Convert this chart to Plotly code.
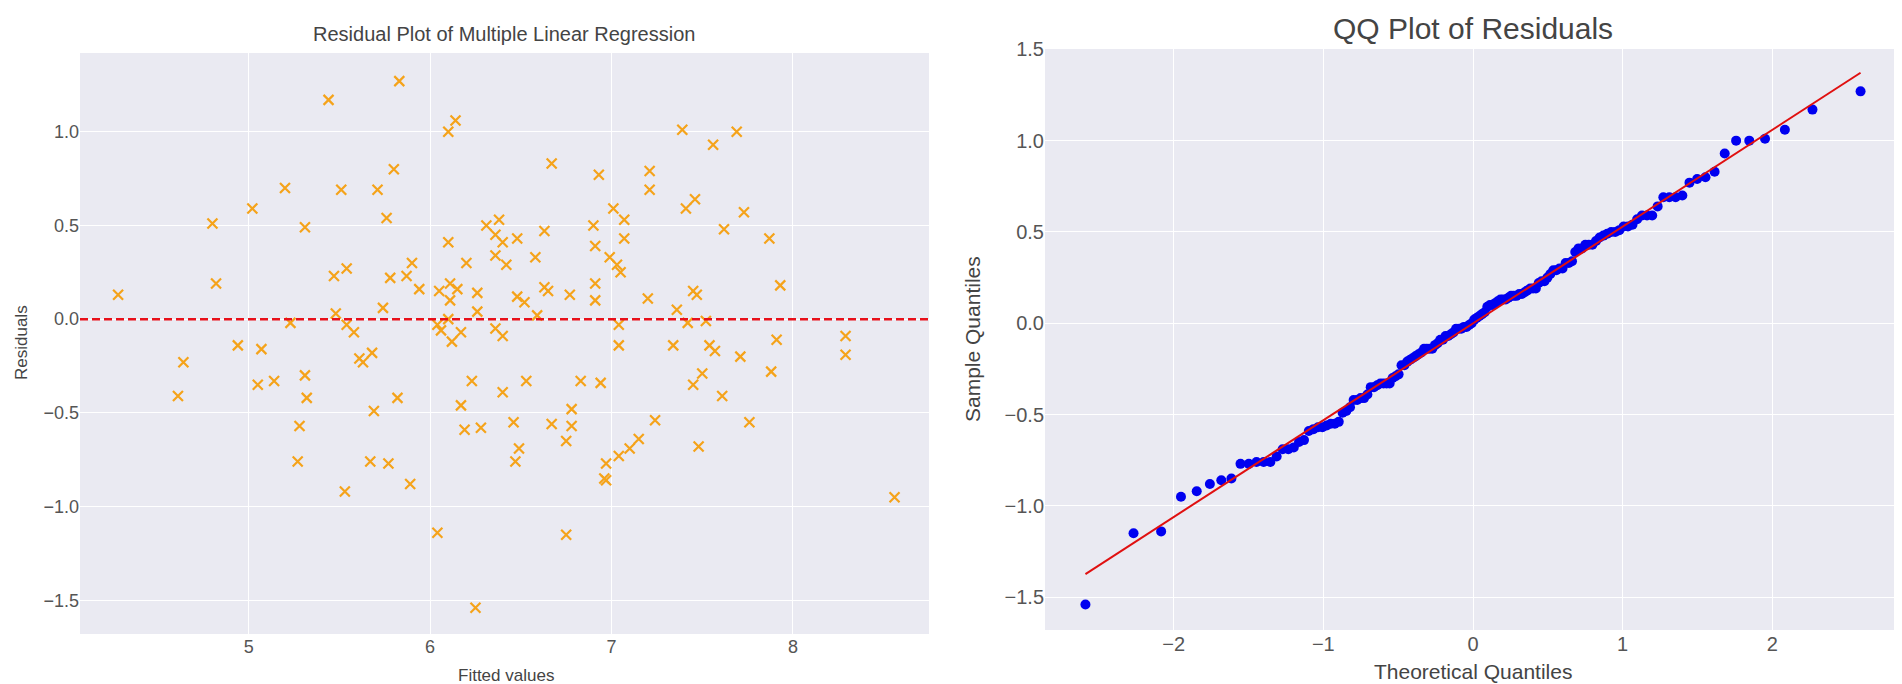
import numpy as np
import plotly.graph_objects as go
from statistics import NormalDist

# values (fitted value, residual)
fitted = [
    4.28, 4.61, 4.64, 4.80, 4.82, 4.94, 5.02, 5.05, 5.07, 5.14,
    5.20, 5.23, 5.27, 5.28, 5.31, 5.31, 5.32, 5.44, 5.47, 5.48,
    5.51, 5.53, 5.54, 5.54, 5.58, 5.61, 5.63, 5.68, 5.69, 5.67,
    5.71, 5.74, 5.76, 5.77, 5.78, 5.80, 5.82, 5.83, 5.87, 5.89,
    5.90, 5.94, 6.04, 6.04, 6.05, 6.06, 6.10, 6.10, 6.10, 6.11,
    6.11, 6.12, 6.14, 6.15, 6.17, 6.17, 6.19, 6.20, 6.23, 6.25,
    6.26, 6.26, 6.28, 6.31, 6.36, 6.36, 6.36, 6.38, 6.40, 6.40,
    6.40, 6.42, 6.46, 6.47, 6.48, 6.48, 6.49, 6.52, 6.53, 6.58,
    6.59, 6.63, 6.63, 6.65, 6.67, 6.67, 6.75, 6.75, 6.77, 6.78,
    6.78, 6.83, 6.90, 6.91, 6.91, 6.91, 6.93, 6.94, 6.96, 6.97,
    6.97, 6.99, 7.01, 7.03, 7.04, 7.04, 7.04, 7.05, 7.07, 7.07,
    7.10, 7.15, 7.20, 7.21, 7.21, 7.24, 7.34, 7.36, 7.39, 7.41,
    7.42, 7.45, 7.45, 7.46, 7.47, 7.48, 7.50, 7.52, 7.54, 7.56,
    7.57, 7.61, 7.62, 7.69, 7.71, 7.73, 7.76, 7.87, 7.88, 7.91,
    7.93, 8.29, 8.29, 8.56,
]
residuals = [
    0.13, -0.41, -0.23, 0.51, 0.19, -0.14, 0.59, -0.35, -0.16, -0.33,
    0.70, -0.02, -0.76, -0.57, 0.49, -0.30, -0.42, 1.17, 0.23, 0.03,
    0.69, -0.92, 0.27, -0.03, -0.07, -0.21, -0.23, -0.18, -0.49, -0.76,
    0.69, 0.06, 0.54, -0.77, 0.22, 0.80, -0.42, 1.27, 0.23, -0.88,
    0.30, 0.16, -0.03, -1.14, 0.15, -0.06, 1.00, 0.41, 0.00, 0.19,
    0.10, -0.12, 1.06, 0.16, -0.07, -0.46, -0.59, 0.30, -0.33, -1.54,
    0.14, 0.04, -0.58, 0.50, 0.45, 0.34, -0.05, 0.53, 0.41, -0.09,
    -0.39, 0.29, -0.55, -0.76, 0.43, 0.12, -0.69, 0.09, -0.33, 0.33,
    0.02, 0.47, 0.17, 0.15, 0.83, -0.56, -0.65, -1.15, 0.13, -0.48,
    -0.57, -0.33, 0.50, 0.39, 0.19, 0.10, 0.77, -0.34, -0.85, -0.86,
    -0.77, 0.33, 0.59, 0.29, -0.03, -0.14, -0.73, 0.25, 0.53, 0.43,
    -0.69, -0.64, 0.11, 0.79, 0.69, -0.54, -0.14, 0.05, 1.01, 0.59,
    -0.02, 0.15, -0.35, 0.64, 0.13, -0.68, -0.29, -0.01, -0.14, 0.93,
    -0.17, -0.41, 0.48, 1.00, -0.20, 0.57, -0.55, 0.43, -0.28, -0.11,
    0.18, -0.09, -0.19, -0.95,
]

left_xticks = [5, 6, 7, 8]
left_yticks = [-1.5, -1.0, -0.5, 0.0, 0.5, 1.0]
right_xticks = [-2, -1, 0, 1, 2]
right_yticks = [-1.5, -1.0, -0.5, 0.0, 0.5, 1.0, 1.5]

# QQ points: sorted residuals against normal order statistic medians
sample_q = np.sort(np.array(residuals))
n = len(sample_q)
pos = np.empty(n)
pos[-1] = 0.5 ** (1.0 / n)
pos[0] = 1 - pos[-1]
pos[1:-1] = (np.arange(2, n) - 0.3175) / (n + 0.365)
theo_q = np.array([NormalDist().inv_cdf(p) for p in pos])
slope, intercept = np.polyfit(theo_q, sample_q, 1)
line_x = np.array([theo_q[0], theo_q[-1]])
line_y = slope * line_x + intercept

W, H = 1902, 684
BG = '#EAEAF2'
TICK = '#555555'
FONT = 'Liberation Sans, Arial, sans-serif'


def px_x(p):
    return p / W


def px_y(p):
    return 1 - p / H


fig = go.Figure()

fig.add_trace(go.Scatter(x=fitted, y=residuals, mode='markers',
                         marker=dict(symbol='x-thin', size=10, color='#F5A31A',
                                     line=dict(width=2.2, color='#F5A31A')),
                         xaxis='x', yaxis='y', showlegend=False))

fig.add_trace(go.Scatter(x=theo_q, y=sample_q, mode='markers',
                         marker=dict(symbol='circle', size=10, color='#0000F0'),
                         xaxis='x2', yaxis='y2', showlegend=False))
fig.add_trace(go.Scatter(x=line_x, y=line_y, mode='lines',
                         line=dict(color='#E01010', width=2),
                         xaxis='x2', yaxis='y2', showlegend=False))

fig.add_shape(type='line', xref='x domain', yref='y', x0=0, x1=1, y0=0, y1=0,
              line=dict(color='#E8101A', width=2.5, dash='8px,4px'), layer='above')


def axis_style(size, ticks, rng, domain, anchor):
    return dict(domain=domain, range=rng, anchor=anchor, tickvals=ticks,
                showgrid=True, gridcolor='white', gridwidth=1,
                zeroline=False, showline=False, ticks='',
                tickfont=dict(size=size, color=TICK, family=FONT),
                automargin=False, fixedrange=True)


fig.update_layout(
    width=W, height=H,
    template='none',
    paper_bgcolor='white', plot_bgcolor=BG,
    margin=dict(l=0, r=0, t=0, b=0),
    font=dict(family=FONT, color='#444444'),
    xaxis=axis_style(18, left_xticks, [4.07, 8.75], [px_x(72), px_x(921)], 'y'),
    yaxis=axis_style(18, left_yticks, [-1.68, 1.42], [px_y(626), px_y(45)], 'x'),
    xaxis2=axis_style(20, right_xticks, [-2.86, 2.86], [px_x(1037), px_x(1893)], 'y2'),
    yaxis2=axis_style(20, right_yticks, [-1.68, 1.502], [px_y(622), px_y(41)], 'x2'),
)
fig.update_layout(yaxis=dict(tickformat='.1f'), yaxis2=dict(tickformat='.1f'))

annotations = [
    dict(text='Residual Plot of Multiple Linear Regression', x=px_x(496), y=px_y(26),
         font=dict(size=20, color='#444444')),
    dict(text='QQ Plot of Residuals', x=px_x(1465), y=px_y(21),
         font=dict(size=30, color='#444444')),
    dict(text='Fitted values', x=px_x(498), y=px_y(667),
         font=dict(size=17, color='#444444')),
    dict(text='Residuals', x=px_x(14), y=px_y(335), textangle=-90,
         font=dict(size=17, color='#444444')),
    dict(text='Theoretical Quantiles', x=px_x(1465), y=px_y(663),
         font=dict(size=21, color='#444444')),
    dict(text='Sample Quantiles', x=px_x(964), y=px_y(331), textangle=-90,
         font=dict(size=21, color='#444444')),
]
for a in annotations:
    fig.add_annotation(xref='paper', yref='paper', showarrow=False,
                       xanchor='center', yanchor='middle', **a)

fig.write_html('out.html')
